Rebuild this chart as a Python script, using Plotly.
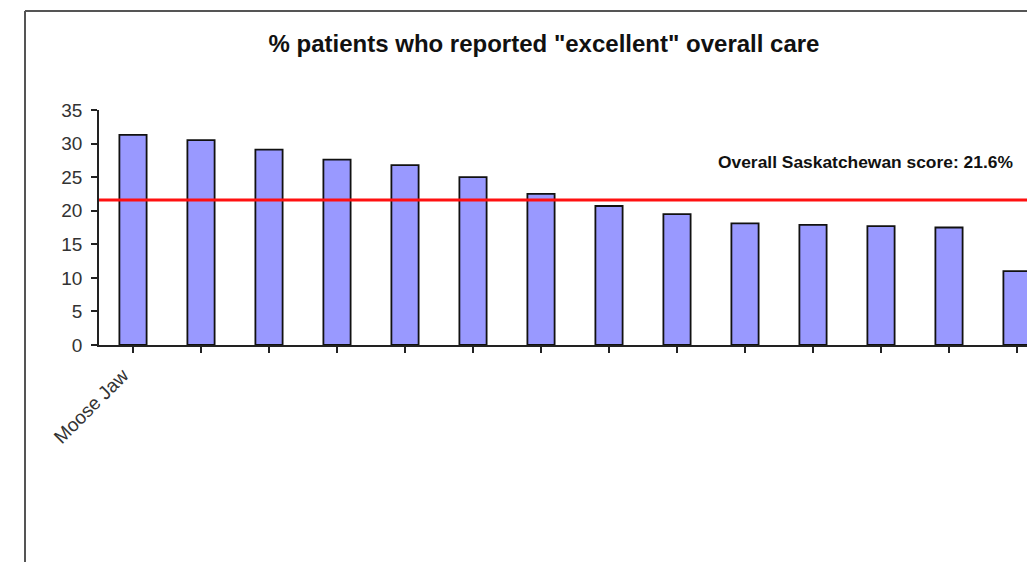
import plotly.graph_objects as go

# ---- data ----
categories = ["Moose Jaw", "", "", "", "", "", "", "", "", "", "", "", "", ""]
values = [31.3, 30.5, 29.1, 27.6, 26.8, 25.0, 22.5, 20.7, 19.5, 18.1, 17.9, 17.7, 17.5, 11.0]
overall_score = 21.6
y_ticks = [0, 5, 10, 15, 20, 25, 30, 35]

x_idx = list(range(len(values)))

# page offset from default body margin
OFF = 8
W, H = 1035 - OFF, 562 - OFF
L, T, B = 99 - OFF, 110 - OFF, 345 - OFF
PW, PH = W - L, B - T

fig = go.Figure()
fig.add_trace(go.Bar(
    x=x_idx, y=values, width=0.4,
    marker=dict(color="#9999ff", line=dict(color="#111111", width=1.8)),
    hoverinfo="y",
))

fig.add_shape(type="line", xref="paper", yref="y", x0=0, x1=1,
              y0=overall_score, y1=overall_score,
              line=dict(color="#ff1010", width=3))

fig.add_annotation(xref="paper", yref="paper",
                   x=(865 - 99) / PW, y=(345 - 162) / PH,
                   text="<b>Overall Saskatchewan score: %.1f%%</b>" % overall_score,
                   showarrow=False, xanchor="center", yanchor="middle",
                   font=dict(family="Liberation Sans, Arial", size=17.4, color="#111111"))

# outer frame (left and top edges visible)
fx = (25 - 99) / PW
fy = (345 - 11) / PH
fig.add_shape(type="line", xref="paper", yref="paper",
              x0=fx, x1=fx, y0=fy, y1=(345 - 580) / PH,
              line=dict(color="#555555", width=2))
fig.add_shape(type="line", xref="paper", yref="paper",
              x0=fx, x1=1.05, y0=fy, y1=fy,
              line=dict(color="#555555", width=2))

fig.update_layout(
    width=W, height=H,
    margin=dict(l=L, r=0, t=T, b=H - B),
    paper_bgcolor="white", plot_bgcolor="white",
    showlegend=False,
    title=dict(text="<b>% patients who reported \"excellent\" overall care</b>",
               x=(544 - OFF) / W, xanchor="center", y=1 - (44 - OFF) / H, yanchor="middle",
               font=dict(family="Liberation Sans, Arial", size=24, color="#111111")),
    xaxis=dict(
        range=[-0.5, -0.5 + PW / 68],
        tickmode="array", tickvals=x_idx, ticktext=categories,
        tickson="boundaries", ticks="outside", ticklen=6, tickcolor="#222222",
        tickwidth=1.5, tickangle=-45, ticklabelshift=-10, ticklabelstandoff=4,
        showline=True, linecolor="#222222", linewidth=1.5,
        showgrid=False, zeroline=False,
        tickfont=dict(family="Liberation Sans, Arial", size=19, color="#333333"),
    ),
    yaxis=dict(
        range=[0, 35], tickmode="array", tickvals=y_ticks,
        ticks="outside", ticklen=6, tickcolor="#222222", tickwidth=1.5,
        ticklabelstandoff=5,
        showline=True, linecolor="#222222", linewidth=1.5,
        showgrid=False, zeroline=False,
        tickfont=dict(family="Liberation Sans, Arial", size=19, color="#333333"),
    ),
)

fig.write_html("out.html")
